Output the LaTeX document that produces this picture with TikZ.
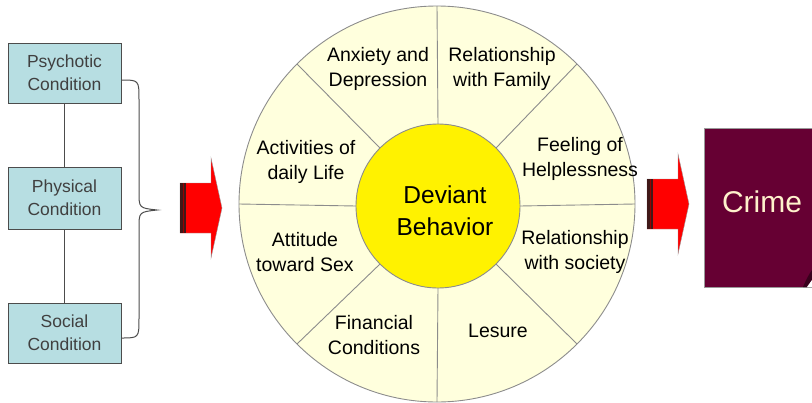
\documentclass[tikz,border=0pt]{standalone}
\usepackage{fontspec}
\setmainfont{Liberation Sans}
\usetikzlibrary{positioning}

\definecolor{condfill}{RGB}{183,222,226}
\definecolor{wheelfill}{RGB}{255,255,221}
\definecolor{crimefill}{RGB}{102,0,51}
\definecolor{crimetext}{RGB}{255,242,204}
\definecolor{stripe}{RGB}{64,24,24}

\begin{document}
\begin{tikzpicture}[x=1pt, y=-1pt,
    cond/.style={draw=black!70, fill=condfill, minimum width=113, minimum height=60,
        inner sep=0pt, align=center, text=black!75, font=\fontsize{17.5}{23}\selectfont},
    link/.style={draw=black!70, line width=1pt},
    area/.style={align=center, font=\fontsize{19.5}{25}\selectfont},
    bigarrow/.pic={
        \fill[red, draw=black!40, line width=0.4pt] (0,-25) -- (31,-25) -- (31,-50) -- (42,0)
            -- (31,50) -- (31,25) -- (0,25) -- cycle;
        \fill[stripe] (0,-25) rectangle (2.7,25);
        \fill[red!60!black] (2.7,-25) rectangle (4,25);
        \fill[stripe] (4,-25) rectangle (6,25);
    }
]
\useasboundingbox (0,0) rectangle (812,402);

% conditions on the left
\node[cond] (psy) at (64.5,73) {Psychotic\\Condition};
\node[cond, minimum height=62] (phy) at (64.5,198) {Physical\\Condition};
\node[cond] (soc) at (64.5,333) {Social\\Condition};
\draw[link] (psy) -- (phy);
\draw[link] (phy) -- (soc);

% brace
\draw[link] (121,80) .. controls (139,80) .. (139,100) -- (139,192)
    .. controls (139,208) .. (157,210) .. controls (139,212) .. (139,228)
    -- (139,318) .. controls (139,338) .. (121,338);

\pic at (180,208) {bigarrow};

% wheel
\node[circle, draw=black!45, fill=wheelfill, line width=0.9pt, minimum size=396,
    inner sep=0pt, outer sep=0pt] (wheel) at (437,204) {};
\node[circle, draw=black!45, fill=yellow, line width=0.9pt, minimum size=164,
    inner sep=0pt, outer sep=0pt] (dev) at (438,206) {};
\node[align=center, font=\fontsize{24.5}{32}\selectfont] (devtext)
    at ([xshift=7, yshift=-5]dev.center) {Deviant\\Behavior};
\foreach \a in {0,45,...,315}
    \draw[draw=black!45, line width=0.9pt] (dev.\a) -- (wheel.\a);

\node[area] (anx) at (378,69) {Anxiety and\\Depression};
\node[area] (fam) at (502,69) {Relationship\\with Family};
\node[area] (help) at (580,159) {Feeling of\\Helplessness};
\node[area] (rsoc) at (575,252) {Relationship\\with society};
\node[area] (les) at (498,331) {Lesure};
\node[area] (fin) at (374,335) {Financial\\Conditions};
\node[area] (sex) at (305,252) {Attitude\\toward Sex};
\node[area] (act) at (306,162) {Activities of\\daily Life};

\pic at (647,204) {bigarrow};

% crime, with the page curl at its corner
\fill[crimefill, draw=black!40, line width=0.6pt] (704,128) rectangle (816,287);
\fill[crimefill!55!black] (812,270) .. controls (809,274) and (806,280) .. (803,287)
    -- (807,287) .. controls (809,283) .. (812,280) -- cycle;
\fill[white] (807,287) .. controls (809,283) .. (812,280) -- (812,287) -- cycle;
\node[text=crimetext, font=\fontsize{30}{36}\selectfont] (crime) at (762,202) {Crime};
\end{tikzpicture}
\end{document}
